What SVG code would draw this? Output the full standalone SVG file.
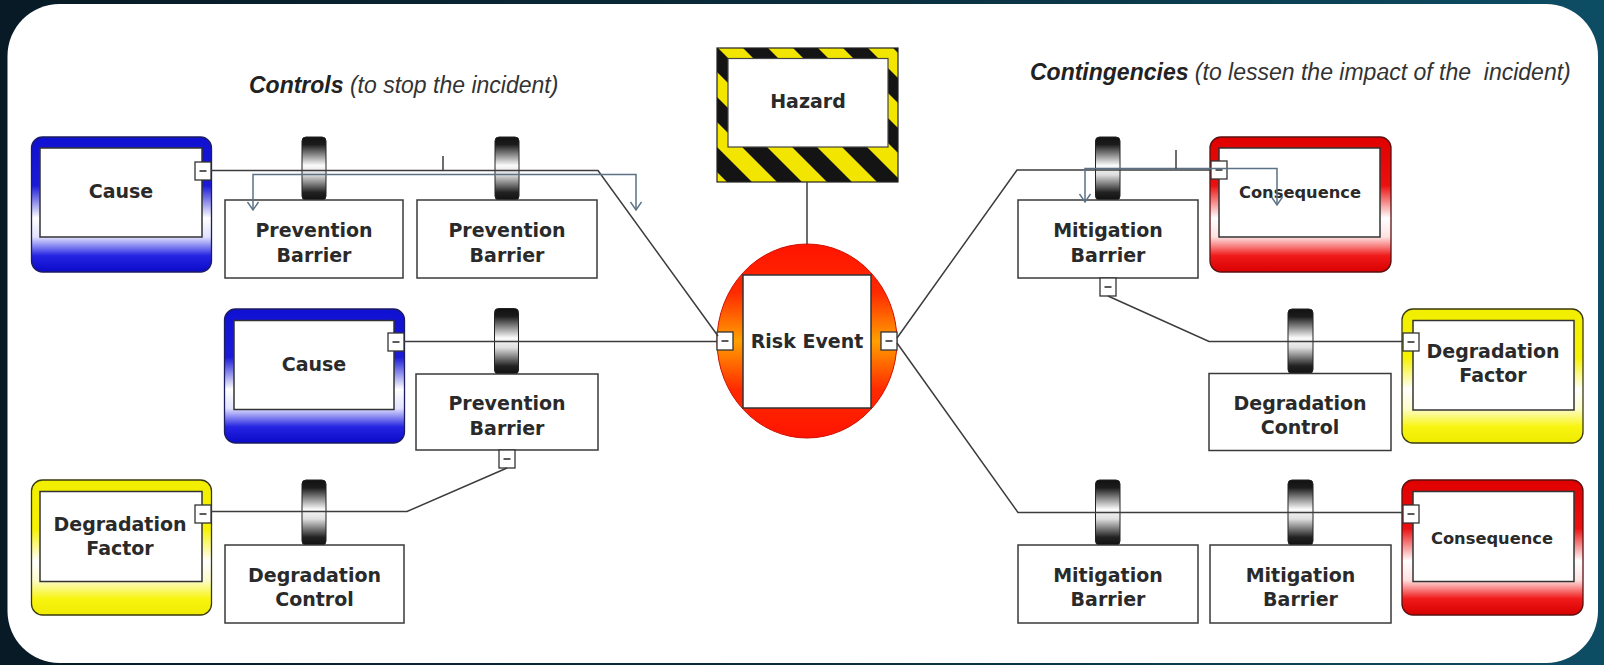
<svg xmlns="http://www.w3.org/2000/svg" width="1604" height="665" viewBox="0 0 1604 665">
<defs>
<linearGradient id="bg" x1="0" y1="0" x2="1" y2="0">
<stop offset="0" stop-color="#071a25"/>
<stop offset="0.5" stop-color="#0a2c3b"/>
<stop offset="1" stop-color="#0d4d64"/>
</linearGradient>
<linearGradient id="gBlue" x1="0" y1="0" x2="0" y2="1">
<stop offset="0" stop-color="#1010d2"/>
<stop offset="0.36" stop-color="#1a1ad8"/>
<stop offset="0.6" stop-color="#ffffff"/>
<stop offset="0.74" stop-color="#e2e2ff"/>
<stop offset="0.88" stop-color="#2424e2"/>
<stop offset="1" stop-color="#0a0ac8"/>
</linearGradient>
<linearGradient id="gRed" x1="0" y1="0" x2="0" y2="1">
<stop offset="0" stop-color="#e00000"/>
<stop offset="0.36" stop-color="#ec1010"/>
<stop offset="0.6" stop-color="#ffffff"/>
<stop offset="0.74" stop-color="#ffe2e2"/>
<stop offset="0.88" stop-color="#f01a1a"/>
<stop offset="1" stop-color="#d80000"/>
</linearGradient>
<linearGradient id="gYel" x1="0" y1="0" x2="0" y2="1">
<stop offset="0" stop-color="#f2ee00"/>
<stop offset="0.36" stop-color="#f6f200"/>
<stop offset="0.6" stop-color="#ffffff"/>
<stop offset="0.74" stop-color="#fdfcd0"/>
<stop offset="0.88" stop-color="#f8f510"/>
<stop offset="1" stop-color="#efea00"/>
</linearGradient>
<linearGradient id="gRoll" x1="0" y1="0" x2="0" y2="1">
<stop offset="0" stop-color="#111"/>
<stop offset="0.12" stop-color="#1c1c1c"/>
<stop offset="0.45" stop-color="#fafafa"/>
<stop offset="0.6" stop-color="#dedede"/>
<stop offset="0.88" stop-color="#222"/>
<stop offset="1" stop-color="#111"/>
</linearGradient>
<linearGradient id="gRisk" x1="0" y1="0" x2="0" y2="1">
<stop offset="0" stop-color="#ff1400"/>
<stop offset="0.25" stop-color="#ff2a00"/>
<stop offset="0.5" stop-color="#ffa000"/>
<stop offset="0.75" stop-color="#ff2a00"/>
<stop offset="1" stop-color="#ff1400"/>
</linearGradient>
<pattern id="stripes" patternUnits="userSpaceOnUse" width="35.355" height="35.355" patternTransform="translate(45,0) rotate(-45)">
<rect x="0" y="0" width="35.355" height="35.355" fill="#f2e600"/>
<rect x="0" y="0" width="17.68" height="35.355" fill="#141414"/>
</pattern>
<marker id="arr" viewBox="-10 -7 12 14" refX="0" refY="0" markerWidth="12" markerHeight="14" markerUnits="userSpaceOnUse" orient="auto-start-reverse">
<path d="M-8,-5.5 L0,0 L-8,5.5" fill="none" stroke="#5b7286" stroke-width="1.4"/>
</marker>
<style>
.box{fill:#fff;stroke:#3a3a3a;stroke-width:1.5}
.inner{fill:#fff;stroke:#333;stroke-width:1.5}
.roll{fill:url(#gRoll);stroke:#222;stroke-width:1}
.port{fill:#fff;stroke:#333;stroke-width:1.3}
.minus{stroke:#333;stroke-width:1.6}
.lbl{font-family:"DejaVu Sans",Verdana,sans-serif;font-weight:bold;font-size:19px;fill:#2a2a2a;text-anchor:middle}
.small{font-size:16.3px}
.title{font-family:"Liberation Sans",Arial,sans-serif;font-style:italic;font-size:23px;fill:#333;white-space:pre}
.conn{fill:none;stroke:#3c3c3c;stroke-width:1.5}
.eff{fill:none;stroke:#5b7286;stroke-width:1.5}
</style>
</defs>
<rect x="0" y="0" width="1604" height="665" fill="url(#bg)"/>
<rect x="7.5" y="4" width="1590.5" height="659" rx="52" fill="#fff"/>

<text class="title" x="249" y="93"><tspan font-weight="bold" fill="#222">Controls</tspan> (to stop the incident)</text>
<text class="title" x="1030" y="80"><tspan font-weight="bold" fill="#222">Contingencies</tspan> (to lessen the impact of the  incident)</text>

<g id="hazard">
<rect x="717" y="48" width="181" height="134" fill="url(#stripes)" stroke="#222" stroke-width="1.2"/>
<rect x="728" y="58.5" width="160" height="88.5" fill="#fff" stroke="#444" stroke-width="1.2"/>
<text class="lbl" x="808" y="108" font-size="18">Hazard</text>
</g>

<g id="risk-event">
<ellipse cx="807" cy="341" rx="90" ry="97" fill="url(#gRisk)" stroke="#d01000" stroke-width="1"/>
<rect x="743" y="275" width="128" height="133" class="inner"/>
<text class="lbl" x="807" y="348">Risk Event</text>
<rect class="port" x="717" y="332" width="16" height="18"/>
<line class="minus" x1="721.5" y1="341" x2="728.5" y2="341"/>
<rect class="port" x="881" y="332" width="16" height="18"/>
<line class="minus" x1="885.5" y1="341" x2="892.5" y2="341"/>
</g>

<g id="cause-1">
<rect x="31.5" y="137" width="180" height="135" rx="11" fill="url(#gBlue)" stroke="#1c1c60" stroke-width="1.3"/>
<rect class="inner" x="40" y="148" width="162" height="89"/>
<text class="lbl" x="121" y="198">Cause</text>
<rect class="port" x="195" y="162" width="16" height="18"/>
<line class="minus" x1="199.5" y1="171" x2="206.5" y2="171"/>
</g>

<g id="cause-2">
<rect x="224.5" y="309" width="180" height="134" rx="11" fill="url(#gBlue)" stroke="#1c1c60" stroke-width="1.3"/>
<rect class="inner" x="234" y="320.5" width="160" height="89"/>
<text class="lbl" x="314" y="371">Cause</text>
<rect class="port" x="388" y="333" width="16" height="18"/>
<line class="minus" x1="392.5" y1="342" x2="399.5" y2="342"/>
</g>

<g id="degradation-factor-left">
<rect x="31.5" y="480" width="180" height="135" rx="11" fill="url(#gYel)" stroke="#3a3a10" stroke-width="1.3"/>
<rect class="inner" x="40" y="491.5" width="162" height="90"/>
<text class="lbl" x="120" y="531">Degradation</text>
<text class="lbl" x="120" y="555">Factor</text>
<rect class="port" x="195" y="505" width="16" height="18"/>
<line class="minus" x1="199.5" y1="514" x2="206.5" y2="514"/>
</g>

<g id="prevention-barrier-1">
<rect class="roll" x="302" y="137" width="24" height="63" rx="4"/>
<rect class="box" x="225" y="200" width="178" height="78"/>
<text class="lbl" x="314" y="237">Prevention</text>
<text class="lbl" x="314" y="262">Barrier</text>
</g>

<g id="prevention-barrier-2">
<rect class="roll" x="495" y="137" width="24" height="63" rx="4"/>
<rect class="box" x="417" y="200" width="180" height="78"/>
<text class="lbl" x="507" y="237">Prevention</text>
<text class="lbl" x="507" y="262">Barrier</text>
</g>

<g id="prevention-barrier-3">
<rect class="roll" x="494.5" y="308.5" width="24" height="65.5" rx="4"/>
<rect class="box" x="416" y="374" width="182" height="76"/>
<text class="lbl" x="507" y="410">Prevention</text>
<text class="lbl" x="507" y="435">Barrier</text>
<rect class="port" x="499" y="450" width="16" height="18"/>
<line class="minus" x1="503.5" y1="459" x2="510.5" y2="459"/>
</g>

<g id="degradation-control-left">
<rect class="roll" x="302" y="480" width="24" height="65" rx="4"/>
<rect class="box" x="225" y="545" width="179" height="78"/>
<text class="lbl" x="314.5" y="582">Degradation</text>
<text class="lbl" x="314.5" y="606">Control</text>
</g>

<g id="mitigation-barrier-1">
<rect class="roll" x="1095.5" y="137" width="24.5" height="63" rx="4"/>
<rect class="box" x="1018" y="200" width="180" height="78"/>
<text class="lbl" x="1108" y="237">Mitigation</text>
<text class="lbl" x="1108" y="262">Barrier</text>
<rect class="port" x="1100" y="278" width="16" height="18"/>
<line class="minus" x1="1104.5" y1="287" x2="1111.5" y2="287"/>
</g>

<g id="consequence-1">
<rect x="1210" y="137" width="181" height="135" rx="11" fill="url(#gRed)" stroke="#5a1010" stroke-width="1.3"/>
<rect class="inner" x="1219" y="148" width="161" height="89"/>
<text class="lbl small" x="1300" y="198">Consequence</text>
<rect class="port" x="1211" y="161" width="16" height="18"/>
<line class="minus" x1="1215.5" y1="170" x2="1222.5" y2="170"/>
</g>

<g id="degradation-control-right">
<rect class="roll" x="1288" y="309" width="25" height="64.5" rx="4"/>
<rect class="box" x="1209" y="373.5" width="182" height="77"/>
<text class="lbl" x="1300" y="410">Degradation</text>
<text class="lbl" x="1300" y="434">Control</text>
</g>

<g id="degradation-factor-right">
<rect x="1402" y="309" width="181" height="134" rx="11" fill="url(#gYel)" stroke="#3a3a10" stroke-width="1.3"/>
<rect class="inner" x="1413" y="320.5" width="161" height="89.5"/>
<text class="lbl" x="1493" y="357.5">Degradation</text>
<text class="lbl" x="1493" y="382">Factor</text>
<rect class="port" x="1403" y="333" width="16" height="18"/>
<line class="minus" x1="1407.5" y1="342" x2="1414.5" y2="342"/>
</g>

<g id="mitigation-barrier-2">
<rect class="roll" x="1095.5" y="480" width="24.5" height="65" rx="4"/>
<rect class="box" x="1018" y="545" width="180" height="78"/>
<text class="lbl" x="1108" y="582">Mitigation</text>
<text class="lbl" x="1108" y="606">Barrier</text>
</g>

<g id="mitigation-barrier-3">
<rect class="roll" x="1288" y="480" width="25" height="65" rx="4"/>
<rect class="box" x="1210" y="545" width="181" height="78"/>
<text class="lbl" x="1300.5" y="582">Mitigation</text>
<text class="lbl" x="1300.5" y="606">Barrier</text>
</g>

<g id="consequence-2">
<rect x="1402" y="480" width="181" height="135" rx="11" fill="url(#gRed)" stroke="#5a1010" stroke-width="1.3"/>
<rect class="inner" x="1413" y="491.5" width="161" height="90"/>
<text class="lbl small" x="1492" y="543.5">Consequence</text>
<rect class="port" x="1403" y="505" width="16" height="18"/>
<line class="minus" x1="1407.5" y1="514" x2="1414.5" y2="514"/>
</g>

<g id="connectors">
<polyline class="conn" points="211,170.5 598,170.5 718,336"/>
<polyline class="eff" points="253,210 253,174.5 636,174.5 636,210" marker-start="url(#arr)" marker-end="url(#arr)"/>
<line class="conn" x1="443" y1="156" x2="443" y2="170.5"/>
<line class="conn" x1="404" y1="341.5" x2="717" y2="341.5"/>
<polyline class="conn" points="507,468 407,511.5 211,511.5"/>
<line class="conn" x1="807" y1="182" x2="807" y2="244"/>
<polyline class="conn" points="897,338 1017,170 1211,170"/>
<polyline class="eff" points="1085,202 1085,168.5 1277,168.5 1277,205" marker-start="url(#arr)" marker-end="url(#arr)"/>
<line class="conn" x1="1176" y1="150" x2="1176" y2="168.5"/>
<polyline class="conn" points="1108,296 1209,341.5 1403,341.5"/>
<polyline class="conn" points="897,343 1018,512.5 1403,512.5"/>
</g>
</svg>
